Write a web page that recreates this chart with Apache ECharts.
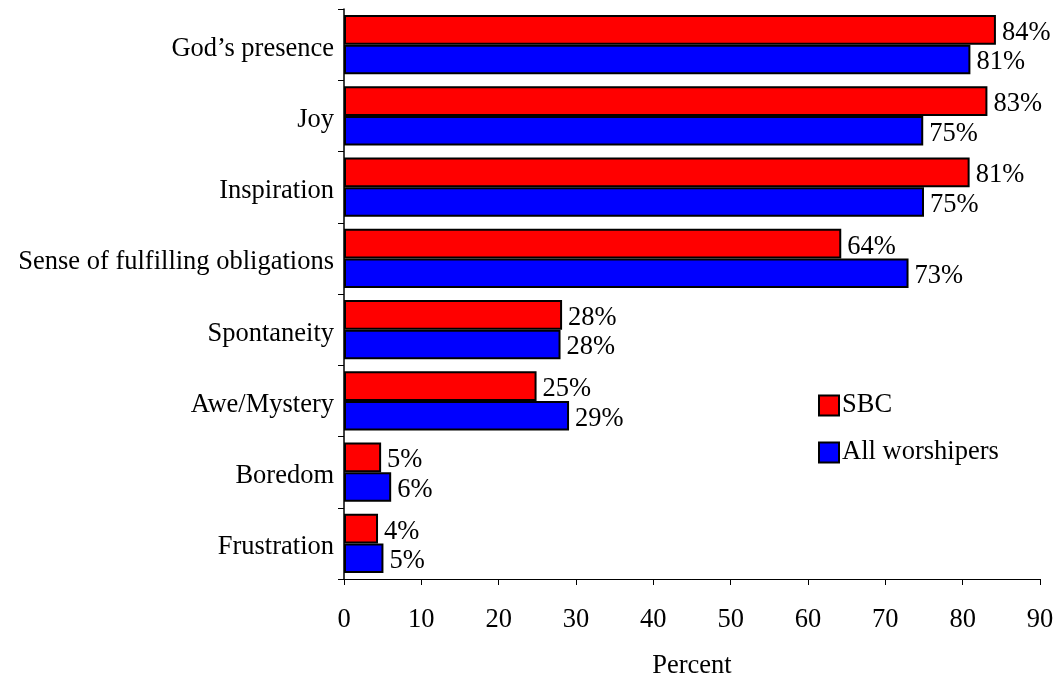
<!DOCTYPE html>
<html>
<head>
<meta charset="utf-8">
<script src="https://cdn.jsdelivr.net/npm/echarts@6/dist/echarts.min.js"></script>
<style>
html,body{margin:0;padding:0;background:#fff;}
#chart{width:1056px;height:677px;}
</style>
</head>
<body>
<div id="chart"></div>
<script>
const categories = ["God\u2019s presence","Joy","Inspiration","Sense of fulfilling obligations","Spontaneity","Awe/Mystery","Boredom","Frustration"];
const sbcValues = [84.3, 83.2, 80.9, 64.3, 28.2, 24.9, 4.8, 4.4];
const sbcLabels = ["84%","83%","81%","64%","28%","25%","5%","4%"];
const allValues = [81.0, 74.9, 75.0, 73.0, 28.0, 29.1, 6.1, 5.1];
const allLabels = ["81%","75%","75%","73%","28%","29%","6%","5%"];
const xTicks = [0,10,20,30,40,50,60,70,80,90];

const FONT = '"Liberation Serif", "Times New Roman", serif';
const FS = 26.5;
const chart = echarts.init(document.getElementById('chart'), null, {renderer:'canvas'});
chart.setOption({
  animation: false,
  backgroundColor: '#fff',
  textStyle: {fontFamily: FONT, color: '#000'},
  grid: {left: 344, right: 16, top: 9, bottom: 98, containLabel: false, outerBoundsMode: 'none'},
  legend: {
    orient: 'vertical',
    left: 813, top: 387,
    itemWidth: 20, itemHeight: 20, itemGap: 20,
    icon: 'rect',
    textStyle: {fontFamily: FONT, fontSize: FS, color: '#000', padding:[0,0,0,-2]},
    itemStyle: {borderColor: '#000', borderWidth: 2},
    data: ['SBC','All worshipers']
  },
  xAxis: {
    type: 'value', min: xTicks[0], max: xTicks[xTicks.length-1], interval: 10,
    name: 'Percent', nameLocation: 'middle', nameGap: 74,
    nameTextStyle: {fontFamily: FONT, fontSize: FS, color: '#000'},
    axisLine: {show: true, lineStyle: {color: '#000', width: 1}},
    axisTick: {show: true, length: 6, lineStyle: {color: '#000'}},
    axisLabel: {fontFamily: FONT, fontSize: FS, color: '#000', margin: 28},
    splitLine: {show: false}
  },
  yAxis: {
    type: 'category', data: categories, inverse: true,
    axisLine: {show: true, lineStyle: {color: '#000', width: 1.5}},
    axisTick: {show: true, length: 6, lineStyle: {color: '#000'}},
    axisLabel: {
      fontFamily: FONT, fontSize: FS, color: '#000', margin: 10,
      formatter: v => '{a|' + v + '}',
      rich: {a: {fontFamily: FONT, fontSize: FS, color: '#000', padding: [8,0,0,0]}}
    }
  },
  series: [
    {
      name: 'SBC', type: 'bar', data: sbcValues,
      barGap: '0%', barCategoryGap: '17%',
      itemStyle: {color: '#ff0000', borderColor: '#000', borderWidth: 2},
      label: {show: true, position: 'right', distance: 6, offset: [0, 3], fontFamily: FONT, fontSize: FS, color: '#000',
        formatter: p => sbcLabels[p.dataIndex]}
    },
    {
      name: 'All worshipers', type: 'bar', data: allValues,
      barGap: '0%', barCategoryGap: '17%',
      itemStyle: {color: '#0000ff', borderColor: '#000', borderWidth: 2},
      label: {show: true, position: 'right', distance: 6, offset: [0, 3], fontFamily: FONT, fontSize: FS, color: '#000',
        formatter: p => allLabels[p.dataIndex]}
    }
  ]
});
</script>
</body>
</html>
